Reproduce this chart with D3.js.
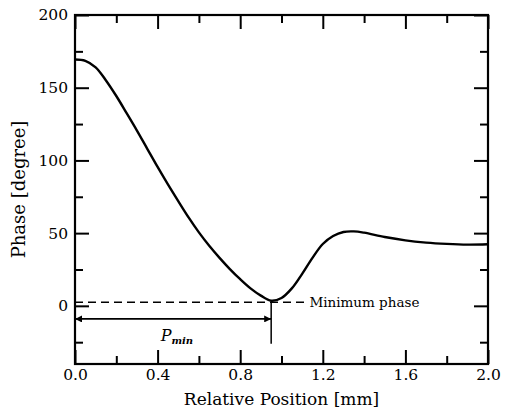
<!DOCTYPE html>
<html>
<head>
<meta charset="utf-8">
<script src="https://cdn.jsdelivr.net/npm/d3@7"></script>
</head>
<body style="margin:0;background:#fff">
<div id="chart"></div>
<script>
// curve
var positions = [0, 0.05, 0.1, 0.15, 0.2, 0.25, 0.3, 0.35, 0.4, 0.45, 0.5, 0.55, 0.6, 0.65, 0.7,
                 0.75, 0.8, 0.85, 0.9, 0.95, 1.0, 1.05, 1.1, 1.15, 1.2, 1.25, 1.3, 1.35, 1.4,
                 1.5, 1.6, 1.7, 1.8, 1.9, 2.0];
var phases = [169.4, 168.5, 164, 155, 144.3, 132.5, 120.5, 108, 95.5, 83.5, 72, 60.8, 50.5, 41.3, 33,
              25.3, 18.3, 12, 7, 3.5, 5.4, 12, 22, 33, 42.5, 48, 50.8, 51.2, 50.3,
              47.3, 45, 43.5, 42.6, 42.1, 42.3];

var xMajor = [0.0, 0.4, 0.8, 1.2, 1.6, 2.0];
var xMinor = [0.2, 0.6, 1.0, 1.4, 1.8];
var yMajor = [0, 50, 100, 150, 200];
var yMinor = [-25, 25, 75, 125, 175];

var minPos = 0.95, minPhase = 2.5;   // minimum phase marker
var arrowPhase = -9, dropPhase = -26;

var FONT = "'DejaVu Serif', 'Liberation Serif', 'Times New Roman', serif";

var margin = {top: 15, right: 21, bottom: 52, left: 75};
var W = 509, H = 416;
var width = W - margin.left - margin.right;
var height = H - margin.top - margin.bottom;

var x = d3.scaleLinear().domain([0, 2]).range([0, width]);
var y = d3.scaleLinear().domain([-40, 200]).range([height, 0]);

var root = d3.select('#chart').append('svg')
    .attr('width', W).attr('height', H)
    .style('font-family', FONT);

var svg = root.append('g')
    .attr('transform', 'translate(' + margin.left + ',' + margin.top + ')');

svg.append('defs').append('marker')
    .attr('id', 'ah').attr('viewBox', '0 0 10 10')
    .attr('refX', 10).attr('refY', 5)
    .attr('markerWidth', 9).attr('markerHeight', 7)
    .attr('markerUnits', 'userSpaceOnUse')
    .attr('orient', 'auto-start-reverse')
    .append('path').attr('d', 'M0,0L10,5L0,10Z').attr('fill', '#000');

// axes: major + minor ticks pointing inward on all four sides
function styleAxis(g) {
    g.attr('font-family', null).style('font-family', FONT).attr('font-size', 15.5);
    g.select('.domain').remove();
    g.selectAll('.tick line').attr('stroke', '#000').attr('stroke-width', 2);
    g.selectAll('.tick text').attr('fill', '#000');
}
svg.append('g').attr('transform', 'translate(0,' + height + ')')
    .call(d3.axisBottom(x).tickValues(xMajor).tickSize(-14).tickPadding(5).tickFormat(d3.format('.1f')))
    .call(styleAxis);
svg.append('g').attr('transform', 'translate(0,' + height + ')')
    .call(d3.axisBottom(x).tickValues(xMinor).tickSize(-8).tickFormat(''))
    .call(styleAxis);
svg.append('g')
    .call(d3.axisTop(x).tickValues(xMajor).tickSize(-14).tickFormat(''))
    .call(styleAxis);
svg.append('g')
    .call(d3.axisTop(x).tickValues(xMinor).tickSize(-8).tickFormat(''))
    .call(styleAxis);
svg.append('g')
    .call(d3.axisLeft(y).tickValues(yMajor).tickSize(-14).tickPadding(7))
    .call(styleAxis);
svg.append('g')
    .call(d3.axisLeft(y).tickValues(yMinor).tickSize(-8).tickFormat(''))
    .call(styleAxis);
svg.append('g').attr('transform', 'translate(' + width + ',0)')
    .call(d3.axisRight(y).tickValues(yMajor).tickSize(-14).tickFormat(''))
    .call(styleAxis);
svg.append('g').attr('transform', 'translate(' + width + ',0)')
    .call(d3.axisRight(y).tickValues(yMinor).tickSize(-8).tickFormat(''))
    .call(styleAxis);

svg.append('rect')
    .attr('width', width).attr('height', height)
    .attr('fill', 'none').attr('stroke', '#000').attr('stroke-width', 2.2);

// dashed minimum-phase line
svg.append('line')
    .attr('x1', x(0)).attr('x2', x(1.125))
    .attr('y1', y(minPhase)).attr('y2', y(minPhase))
    .attr('stroke', '#000').attr('stroke-width', 1.5)
    .attr('stroke-dasharray', '8,5');

svg.append('text')
    .attr('x', x(1.135)).attr('y', y(minPhase) + 5)
    .attr('font-size', 13.5)
    .text('Minimum phase');

// P_min double arrow and drop line
svg.append('line')
    .attr('x1', x(0)).attr('x2', x(minPos))
    .attr('y1', y(arrowPhase)).attr('y2', y(arrowPhase))
    .attr('stroke', '#000').attr('stroke-width', 1.6)
    .attr('marker-start', 'url(#ah)').attr('marker-end', 'url(#ah)');

svg.append('line')
    .attr('x1', x(minPos)).attr('x2', x(minPos))
    .attr('y1', y(minPhase)).attr('y2', y(dropPhase))
    .attr('stroke', '#000').attr('stroke-width', 1.5);

var pl = svg.append('text')
    .attr('x', x(0.415)).attr('y', y(-24))
    .attr('font-size', 16).attr('font-style', 'italic');
pl.append('tspan').text('P');
pl.append('tspan').attr('dy', 3).attr('font-size', 10).attr('font-weight', 'bold').text('min');

// phase curve
var pts = positions.map(function(d, i) { return [d, phases[i]]; });
svg.append('path')
    .datum(pts)
    .attr('fill', 'none')
    .attr('stroke', '#000')
    .attr('stroke-width', 2.4)
    .attr('d', d3.line()
        .x(function(d) { return x(d[0]); })
        .y(function(d) { return y(d[1]); })
        .curve(d3.curveCatmullRom.alpha(0.5)));

// axis titles
svg.append('text')
    .attr('x', width / 2).attr('y', height + 41)
    .attr('text-anchor', 'middle')
    .attr('font-size', 17)
    .text('Relative Position [mm]');

svg.append('text')
    .attr('transform', 'translate(' + (-50) + ',' + (height / 2) + ') rotate(-90)')
    .attr('text-anchor', 'middle')
    .attr('font-size', 18)
    .text('Phase [degree]');
</script>
</body>
</html>
